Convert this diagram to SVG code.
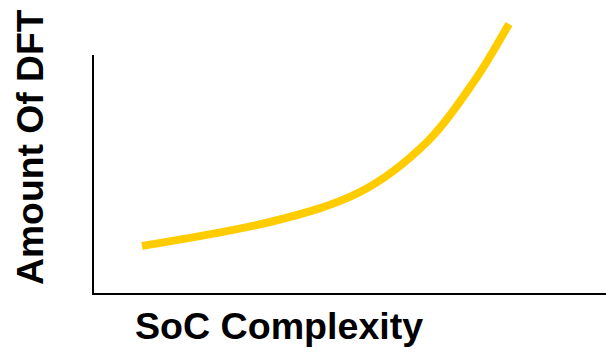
<svg xmlns="http://www.w3.org/2000/svg" width="606" height="355" viewBox="0 0 606 355">
  <style>
    .axis { fill: none; stroke: #000; stroke-width: 2; }
    .curve { fill: none; stroke: #FFCC00; stroke-width: 8; stroke-linecap: butt; }
    .label { font-family: "Liberation Sans", Arial, sans-serif; font-weight: bold; fill: #000; }
  </style>
  <rect width="606" height="355" fill="#fff"/>
  <g id="axes">
    <path class="axis" d="M93,55 V294 H606"/>
  </g>
  <g id="growth-curve">
    <path class="curve" d="M142,246 C185,238.7 233.7,231 270,222 C306.3,213 333.8,205.3 360,192 C386.2,178.7 407.8,160.7 427,142 C446.2,123.3 461.3,99.7 475,80 C488.7,60.3 497.5,43.5 509,24"/>
  </g>
  <g id="x-label">
    <text class="label" x="135" y="339" font-size="37.6">SoC Complexity</text>
  </g>
  <g id="y-label">
    <text class="label" font-size="37.3" transform="translate(43,285) rotate(-90)">Amount Of DFT</text>
  </g>
</svg>
